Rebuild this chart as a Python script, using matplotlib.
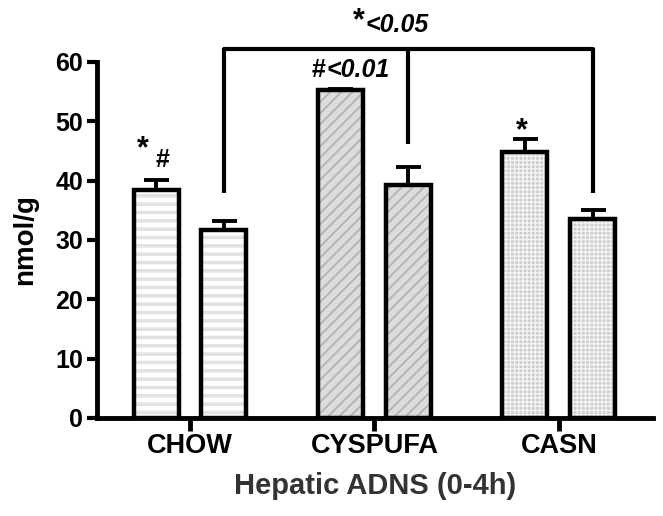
import matplotlib.pyplot as plt
import numpy as np

plt.rcParams['font.family'] = ['Liberation Sans', 'DejaVu Sans']
plt.rcParams['font.weight'] = 'bold'

groups = ['CHOW', 'CYSPUFA', 'CASN']
first_vals = [38.4, 55.2, 44.9]
first_errs = [1.7, 0.3, 2.1]
second_vals = [31.7, 39.3, 33.6]
second_errs = [1.5, 3.0, 1.5]

# fill style per group: face, hatch, hatch colour, hatch width
faces = ['white', '#dcdcdc', '#cdcdcd']
hatches = ['--', '///', '++++']
hatch_cols = ['#e2e2e2', '#b2b2b2', '#f4f4f4']
hatch_lw = [2.6, 1.3, 1.0]

fig = plt.figure(figsize=(6.63, 5.16), dpi=100)
ax = fig.add_axes([0.1463, 0.19, 0.8386, 0.690])

x = np.arange(len(groups))
w = 0.244
off = 0.184
lw = 3.2

for i in range(len(groups)):
    plt.rcParams['hatch.linewidth'] = hatch_lw[i]
    for xx, v, e in [(x[i] - off, first_vals[i], first_errs[i]),
                     (x[i] + off, second_vals[i], second_errs[i])]:
        ax.bar(xx, v, w, color=faces[i], edgecolor=hatch_cols[i], hatch=hatches[i], linewidth=0, zorder=2)
        ax.bar(xx, v, w, fill=False, edgecolor='black', linewidth=lw, zorder=3)
        ax.errorbar(xx, v, yerr=[[0], [e]], fmt='none', ecolor='black', elinewidth=2.8,
                    capsize=9, capthick=2.8, zorder=4)

ax.set_xlim(-0.504, 2.51)
ax.set_ylim(0, 60)
ax.set_yticks([0, 10, 20, 30, 40, 50, 60])
ax.set_xticks(x)
ax.set_xticklabels(groups, fontsize=19.5, fontweight='bold')
ax.tick_params(axis='y', labelsize=18, width=3, length=7, pad=3)
ax.tick_params(axis='x', width=3.5, length=9, pad=2)
for s in ['top', 'right']:
    ax.spines[s].set_visible(False)
for s in ['left', 'bottom']:
    ax.spines[s].set_linewidth(3.5)

ax.set_ylabel('nmol/g', fontsize=20, fontweight='bold', labelpad=12)
ax.set_xlabel('Hepatic ADNS (0-4h)', fontsize=21, fontweight='bold', color='#333333', labelpad=9)

# significance bracket
xl = x[0] + off
xm = x[1] + off
xr = x[2] + off
top = 62.1
kw = dict(color='black', linewidth=3, clip_on=False, solid_capstyle='butt')
ax.plot([xl, xl, xr, xr], [37.9, top, top, 37.9], **kw)
ax.plot([xm, xm], [top, 46.2], **kw)

ax.text(0.949, 66.9, '*', fontsize=22, fontweight='bold', ha='right', va='center')
ax.text(0.949, 66.3, '<0.05', fontsize=18, fontweight='bold', style='italic', ha='left', va='center')
ax.text(0.661, 58.7, '#', fontsize=18, fontweight='bold', ha='left', va='center')
ax.text(1.084, 58.7, '<0.01', fontsize=18, fontweight='bold', style='italic', ha='right', va='center')
ax.text(-0.255, 45.2, '*', fontsize=22, fontweight='bold', ha='center', va='center')
ax.text(-0.146, 43.5, '#', fontsize=18, fontweight='bold', ha='center', va='center')
ax.text(1.8, 48.4, '*', fontsize=22, fontweight='bold', ha='center', va='center')

fig.savefig('out.png', dpi=100)
